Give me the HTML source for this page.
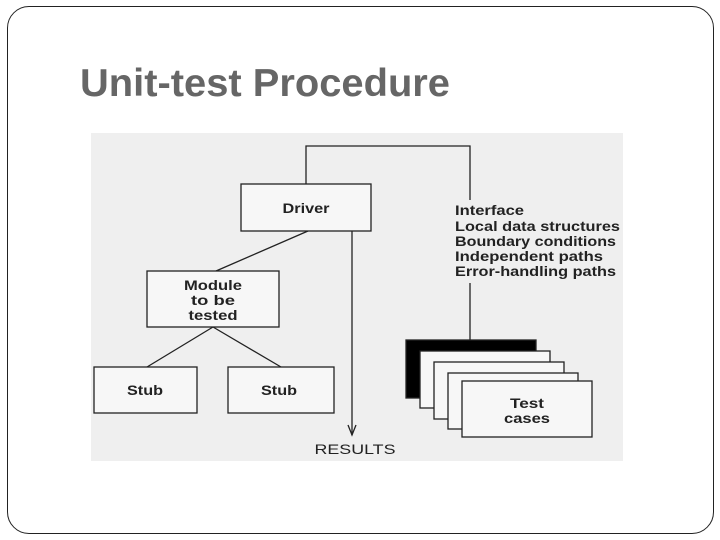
<!DOCTYPE html>
<html><head><style>
body{margin:0;width:720px;height:540px;background:#fff;position:relative;overflow:hidden;font-family:"Liberation Sans",sans-serif}
.frame{position:absolute;left:7px;top:6px;width:705px;height:526px;border:1.5px solid #222;border-radius:22px}
</style></head><body>
<div class="frame"></div>
<svg style="position:absolute;left:0;top:0" width="720" height="540" font-family="Liberation Sans, sans-serif">
<text x="80" y="96" font-size="39" font-weight="bold" fill="#666" textLength="370" lengthAdjust="spacingAndGlyphs">Unit-test Procedure</text>
<rect x="91" y="133" width="532" height="328" fill="#efefef"/>
<g stroke="#222" stroke-width="1.3" fill="none">
<polyline points="306,184 306,146 470,146 470,200"/>
<line x1="470" y1="283" x2="470" y2="340"/>
<line x1="308" y1="231" x2="216" y2="271"/>
<line x1="213" y1="327" x2="147" y2="367"/>
<line x1="213" y1="327" x2="281" y2="367"/>
<line x1="352" y1="231" x2="352" y2="435"/>
<polyline points="348,425 352,435 356,425"/>
</g>
<g stroke="#222" stroke-width="1.3" fill="#f7f7f7">
<rect x="241" y="184" width="130" height="47"/>
<rect x="147" y="271" width="132" height="56"/>
<rect x="94" y="367" width="103" height="46"/>
<rect x="228" y="367" width="106" height="46"/>
<rect x="406" y="340" width="130" height="58" fill="#000"/>
<rect x="420" y="351" width="130" height="57"/>
<rect x="434" y="362" width="130" height="57"/>
<rect x="448" y="373" width="130" height="56"/>
<rect x="462" y="381" width="130" height="56"/>
</g>
<g font-size="14" font-weight="bold" fill="#222" text-anchor="middle" lengthAdjust="spacingAndGlyphs">
<text x="306" y="213" textLength="47" lengthAdjust="spacingAndGlyphs">Driver</text>
<text x="213" y="290" textLength="58" lengthAdjust="spacingAndGlyphs">Module</text>
<text x="213" y="305" textLength="44" lengthAdjust="spacingAndGlyphs">to be</text>
<text x="213" y="320" textLength="49" lengthAdjust="spacingAndGlyphs">tested</text>
<text x="145" y="395" textLength="36" lengthAdjust="spacingAndGlyphs">Stub</text>
<text x="279" y="395" textLength="36" lengthAdjust="spacingAndGlyphs">Stub</text>
<text x="527" y="408" textLength="34" lengthAdjust="spacingAndGlyphs">Test</text>
<text x="527" y="423" textLength="46" lengthAdjust="spacingAndGlyphs">cases</text>
<text x="355" y="454" font-weight="normal" textLength="81" lengthAdjust="spacingAndGlyphs">RESULTS</text>
</g>
<g font-size="14" font-weight="bold" fill="#222">
<text x="455" y="215" textLength="69" lengthAdjust="spacingAndGlyphs">Interface</text>
<text x="455" y="231" textLength="165" lengthAdjust="spacingAndGlyphs">Local data structures</text>
<text x="455" y="246" textLength="161" lengthAdjust="spacingAndGlyphs">Boundary conditions</text>
<text x="455" y="261" textLength="148" lengthAdjust="spacingAndGlyphs">Independent paths</text>
<text x="455" y="276" textLength="161" lengthAdjust="spacingAndGlyphs">Error-handling paths</text>
</g>
</svg>
</body></html>
